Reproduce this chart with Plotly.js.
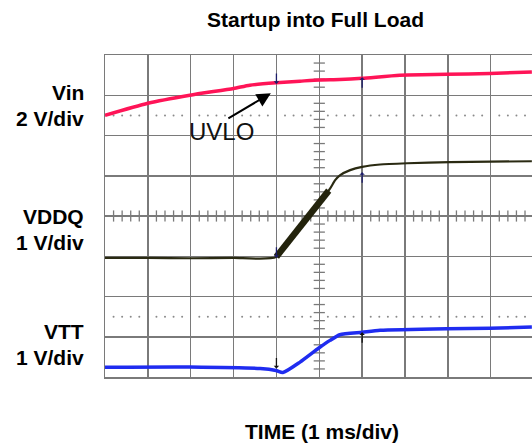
<!DOCTYPE html>
<html>
<head>
<meta charset="utf-8">
<script src="https://cdn.plot.ly/plotly-3.0.1.min.js"></script>
<style>html,body{margin:0;padding:0;background:#fff;}#chart{width:532px;height:443px;}</style>
</head>
<body>
<div id="chart"></div>
<script>
// Time axis in divisions (1 ms/div), amplitude in screen divisions (8 div tall)
const vinX  = [0, 1.0, 1.98, 3.0, 3.38, 3.99, 4.55, 5.0, 5.48, 6.0, 6.88, 7.98, 8.98, 9.96];
const vinY  = [6.50, 6.80, 7.00, 7.17, 7.25, 7.31, 7.35, 7.38, 7.39, 7.42, 7.50, 7.52, 7.54, 7.58];

const vddqX = [0, 1.0, 2.0, 3.0, 3.995, 4.98, 5.25, 5.37, 5.48, 5.72, 6.0, 6.42, 7.05, 8.05, 9.0, 9.96];
const vddqY = [2.96, 2.96, 2.95, 2.96, 2.98, 4.31, 4.68, 4.89, 5.01, 5.14, 5.22, 5.28, 5.31, 5.34, 5.35, 5.36];
const vddqRampX = [4.0, 4.98, 5.22];
const vddqRampY = [2.99, 4.31, 4.63];

const vttX  = [0, 1.98, 3.62, 3.99, 4.15, 4.55, 4.99, 5.25, 5.48, 6.0, 6.42, 7.98, 8.98, 9.96];
const vttY  = [0.244, 0.249, 0.21, 0.16, 0.11, 0.37, 0.72, 0.91, 1.05, 1.11, 1.16, 1.20, 1.21, 1.24];

// cursor arrows: x, y of head, direction of tail, colour
const cursorX = [4, 6, 4, 6, 4, 6];
const cursorY = [7.28, 7.45, 2.96, 5.09, 0.21, 1.11];
const cursorDir = [-1, 1, -1, 1, -1, 1];
const cursorColor = ['#1c1c6a', '#1c1c6a', '#1c1c6a', '#1c1c6a', '#111111', '#111111'];

const channelLabels = ['Vin', '2 V/div', 'VDDQ', '1 V/div', 'VTT', '1 V/div'];
const channelLabelY = [7.07, 6.42, 3.99, 3.33, 1.14, 0.48];

const titleText = 'Startup into Full Load';
const xTitleText = 'TIME (1 ms/div)';
const uvloText = 'UVLO';

// graticule decorations
const tickVX = [], tickVY = [], tickHX = [], tickHY = [], dotX = [], dotY = [];
for (let k = 1; k < 40; k++) { if (k % 5) { tickVX.push(5); tickVY.push(k * 0.2); } }
for (let k = 1; k < 50; k++) { if (k % 5) { tickHX.push(k * 0.2); tickHY.push(4); } }
[1.5, 6.5].forEach(function (yy) {
  for (let k = 1; k < 50; k++) { if (k % 5) { dotX.push(k * 0.2); dotY.push(yy); } }
});

const gridCol = '#7a7a7a';
const traces = [
  {x: dotX, y: dotY, mode: 'markers', marker: {symbol: 'circle', size: 2, color: '#8a8a8a'}, hoverinfo: 'skip'},
  {x: tickVX, y: tickVY, mode: 'markers', marker: {symbol: 'line-ew', size: 8, line: {width: 1.3, color: gridCol}}, hoverinfo: 'skip'},
  {x: tickHX, y: tickHY, mode: 'markers', marker: {symbol: 'line-ns', size: 8, line: {width: 1.3, color: gridCol}}, hoverinfo: 'skip'},
  {x: vinX, y: vinY, mode: 'lines', line: {color: '#ff1457', width: 3.5, shape: 'spline', smoothing: 0.6}},
  {x: vddqX, y: vddqY, mode: 'lines', line: {color: '#2a2a12', width: 2.2, shape: 'spline', smoothing: 0.5}},
  {x: vddqRampX, y: vddqRampY, mode: 'lines', line: {color: '#23230c', width: 6.5}},
  {x: vttX, y: vttY, mode: 'lines', line: {color: '#1f2cf0', width: 3.5, shape: 'spline', smoothing: 0.6}}
];

const fam = 'Liberation Sans, Arial, sans-serif';
const ann = [];
ann.push({xref: 'paper', yref: 'paper', x: 0.494, y: 1.109, text: '<b>' + titleText + '</b>', showarrow: false,
  xanchor: 'center', yanchor: 'middle', font: {family: fam, size: 21, color: '#000'}});
ann.push({xref: 'paper', yref: 'paper', x: 0.508, y: -0.168, text: '<b>' + xTitleText + '</b>', showarrow: false,
  xanchor: 'center', yanchor: 'middle', font: {family: fam, size: 21, color: '#000'}});
channelLabels.forEach(function (t, i) {
  ann.push({xref: 'paper', yref: 'y', x: -0.044, y: channelLabelY[i], text: '<b>' + t + '</b>', showarrow: false,
    xanchor: 'right', yanchor: 'middle', font: {family: fam, size: 21, color: '#000'}});
});
ann.push({x: 2.71, y: 6.11, text: uvloText, showarrow: false, xanchor: 'center', yanchor: 'middle',
  font: {family: fam, size: 24, color: '#111'}});
ann.push({x: 3.87, y: 7.05, ax: -44, ay: 26, text: '', showarrow: true, arrowhead: 2, arrowsize: 1.4, arrowwidth: 2, arrowcolor: '#000'});
cursorX.forEach(function (cx, i) {
  ann.push({x: cx, y: cursorY[i], ax: 0, ay: 12 * cursorDir[i], text: '', showarrow: true, arrowhead: 1,
    arrowsize: 0.7, arrowwidth: 1.3, arrowcolor: cursorColor[i]});
});

const layout = {
  width: 532, height: 443,
  margin: {l: 105, r: 0, t: 55, b: 66},
  paper_bgcolor: '#fff', plot_bgcolor: '#fff',
  showlegend: false,
  xaxis: {range: [0, 9.963], dtick: 1, tick0: 0, showgrid: true, gridcolor: gridCol, gridwidth: 1.5,
    zeroline: false, showticklabels: false, ticks: '', showline: true, linecolor: gridCol, linewidth: 1.5, mirror: true},
  yaxis: {range: [0, 8], dtick: 1, tick0: 0, showgrid: true, gridcolor: gridCol, gridwidth: 1.5,
    zeroline: false, showticklabels: false, ticks: '', showline: true, linecolor: gridCol, linewidth: 1.5, mirror: false},
  annotations: ann
};

Plotly.newPlot('chart', traces, layout, {staticPlot: true, displayModeBar: false});
</script>
</body>
</html>
